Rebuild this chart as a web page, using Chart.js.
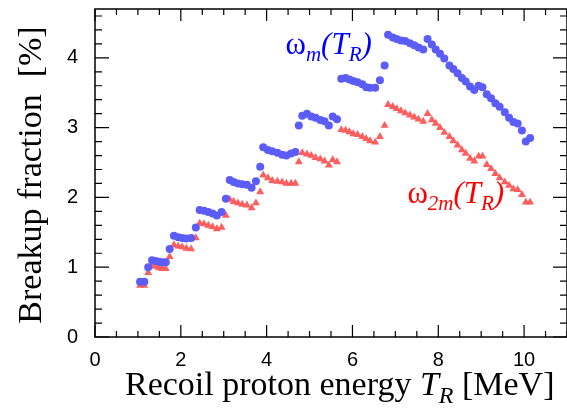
<!DOCTYPE html>
<html>
<head>
<meta charset="utf-8">
<script src="https://cdn.jsdelivr.net/npm/chart.js@4/dist/chart.umd.min.js"></script>
<style>
  body { margin: 0; background: #fff; }
  #wrap { width: 567px; height: 408px; position: relative; }
</style>
</head>
<body>
<div id="wrap"><canvas id="c"></canvas></div>
<script>
// recoil proton energy T_R [MeV], shared by both series
const energies = [
  1.05, 1.15, 1.24, 1.33, 1.41, 1.49, 1.57, 1.65, 1.74, 1.84,
  1.94, 2.03, 2.13, 2.24, 2.35, 2.44, 2.54, 2.64, 2.74, 2.84,
  2.95, 3.05, 3.14, 3.23, 3.33, 3.43, 3.54, 3.65, 3.75, 3.85,
  3.92, 4.03, 4.13, 4.25, 4.36, 4.46, 4.57, 4.67, 4.75, 4.83,
  4.94, 5.04, 5.14, 5.25, 5.35, 5.45, 5.54, 5.64, 5.74, 5.84,
  5.93, 6.02, 6.12, 6.23, 6.32, 6.41, 6.53, 6.64, 6.75, 6.83,
  6.94, 7.03, 7.13, 7.23, 7.34, 7.44, 7.54, 7.65, 7.75, 7.85,
  7.94, 8.04, 8.14, 8.26, 8.35, 8.45, 8.55, 8.64, 8.74, 8.84,
  8.94, 9.03, 9.13, 9.23, 9.33, 9.43, 9.55, 9.65, 9.75, 9.85,
  9.95, 10.04, 10.14
];
// omega_m(T_R) [%]
const omegaM = [
  0.79, 0.79, 1.00, 1.10, 1.09, 1.08, 1.07, 1.07, 1.26, 1.45,
  1.43, 1.42, 1.41, 1.42, 1.57, 1.82, 1.81, 1.79, 1.77, 1.74,
  1.79, 1.98, 2.25, 2.22, 2.20, 2.19, 2.18, 2.14, 2.23, 2.44,
  2.72, 2.68, 2.66, 2.64, 2.61, 2.60, 2.63, 2.65, 3.03, 3.17,
  3.20, 3.16, 3.14, 3.11, 3.09, 3.03, 3.16, 3.12, 3.70, 3.71,
  3.69, 3.67, 3.65, 3.62, 3.58, 3.57, 3.57, 3.68, 3.89, 4.33,
  4.29, 4.27, 4.25, 4.24, 4.21, 4.18, 4.15, 4.12, 4.27, 4.19,
  4.12, 4.06, 3.99, 3.89, 3.84, 3.78, 3.71, 3.66, 3.59, 3.54,
  3.60, 3.58, 3.48, 3.42, 3.35, 3.30, 3.22, 3.14, 3.08, 3.06,
  2.96, 2.80, 2.85
];
// omega_2m(T_R) [%]
const omega2M = [
  0.74, 0.74, 0.92, 1.02, 1.01, 0.99, 0.98, 0.98, 1.15, 1.32,
  1.30, 1.29, 1.27, 1.26, 1.42, 1.63, 1.62, 1.60, 1.58, 1.55,
  1.57, 1.74, 1.97, 1.94, 1.92, 1.90, 1.89, 1.85, 1.92, 2.08,
  2.32, 2.28, 2.24, 2.23, 2.22, 2.20, 2.20, 2.20, 2.51, 2.64,
  2.62, 2.60, 2.57, 2.55, 2.52, 2.46, 2.54, 2.51, 2.97, 2.96,
  2.94, 2.91, 2.90, 2.87, 2.84, 2.81, 2.79, 2.87, 3.03, 3.33,
  3.30, 3.27, 3.24, 3.21, 3.18, 3.15, 3.12, 3.09, 3.20, 3.11,
  3.06, 3.00, 2.93, 2.87, 2.81, 2.75, 2.68, 2.63, 2.56, 2.52,
  2.59, 2.59, 2.47, 2.41, 2.34, 2.28, 2.22, 2.17, 2.12, 2.11,
  2.04, 1.93, 1.93
];
const xTicks = [0, 2, 4, 6, 8, 10];
const yTicks = [0, 1, 2, 3, 4];

const toPoints = (xs, ys) => xs.map((x, i) => ({ x: x, y: ys[i] }));

const serif = '"Liberation Serif", "Times New Roman", serif';
const sans = '"Liberation Sans", Arial, sans-serif';

// draw a run of text pieces, each with its own font and baseline shift
function drawRich(ctx, x, y, parts, color) {
  ctx.save();
  ctx.fillStyle = color;
  ctx.textBaseline = 'alphabetic';
  ctx.textAlign = 'left';
  let cx = x;
  parts.forEach(p => {
    ctx.font = p.font;
    ctx.fillText(p.text, cx, y + (p.dy || 0));
    cx += ctx.measureText(p.text).width;
  });
  ctx.restore();
}

function omegaLabel(sub) {
  return [
    { text: 'ω', font: '31px ' + serif },
    { text: sub, font: 'italic 21px ' + serif, dy: 7 },
    { text: '(', font: 'italic 31px ' + serif },
    { text: 'T', font: 'italic 31px ' + serif },
    { text: 'R', font: 'italic 21px ' + serif, dy: 7 },
    { text: ')', font: 'italic 31px ' + serif }
  ];
}

const framePlugin = {
  id: 'frame',
  afterDraw(chart) {
    const { ctx, chartArea: a, scales: { x, y } } = chart;
    ctx.save();
    ctx.strokeStyle = '#000';
    ctx.lineWidth = 1.5;
    ctx.strokeRect(a.left, a.top, a.right - a.left, a.bottom - a.top);

    // inside ticks on all four sides
    ctx.lineWidth = 1.2;
    ctx.beginPath();
    for (let v = 0; v <= x.max + 1e-9; v += 0.5) {
      const px = x.getPixelForValue(v);
      const major = Math.abs(v / 2 - Math.round(v / 2)) < 1e-6;
      const len = major ? 12 : 6;
      ctx.moveTo(px, a.bottom); ctx.lineTo(px, a.bottom - len);
      ctx.moveTo(px, a.top); ctx.lineTo(px, a.top + len);
    }
    for (let v = 0; v <= y.max + 1e-9; v += 0.2) {
      const py = y.getPixelForValue(v);
      const major = Math.abs(v - Math.round(v)) < 1e-6;
      const len = major ? 14 : 7;
      ctx.moveTo(a.left, py); ctx.lineTo(a.left + len, py);
      ctx.moveTo(a.right, py); ctx.lineTo(a.right - len, py);
    }
    ctx.stroke();
    ctx.restore();

    // series labels, placed in data coordinates
    drawRich(ctx, x.getPixelForValue(4.44), y.getPixelForValue(4.05), omegaLabel('m'), '#0000ff');
    drawRich(ctx, x.getPixelForValue(7.28), y.getPixelForValue(1.92), omegaLabel('2m'), '#ff0000');

    // x axis title with italic T_R
    drawRich(ctx, 125, 395, [
      { text: 'Recoil proton energy ', font: '34px ' + serif },
      { text: 'T', font: 'italic 34px ' + serif },
      { text: 'R', font: 'italic 24px ' + serif, dy: 8 },
      { text: ' [MeV]', font: '34px ' + serif }
    ], '#000');

    // y axis title
    ctx.save();
    ctx.translate(32, 175);
    ctx.rotate(-Math.PI / 2);
    ctx.font = '34px ' + serif;
    ctx.fillStyle = '#000';
    ctx.textAlign = 'center';
    ctx.textBaseline = 'middle';
    ctx.fillText('Breakup fraction  [%]', 0, 0);
    ctx.restore();
  }
};

new Chart(document.getElementById('c'), {
  type: 'scatter',
  data: {
    datasets: [{
      label: 'omega_m',
      data: toPoints(energies, omegaM),
      pointStyle: 'circle',
      pointRadius: 4,
      backgroundColor: '#5c5cf8',
      borderWidth: 0
    }, {
      label: 'omega_2m',
      data: toPoints(energies, omega2M),
      pointStyle: 'triangle',
      pointRadius: 4.6,
      backgroundColor: '#ff5e5e',
      borderWidth: 0
    }]
  },
  options: {
    responsive: true,
    maintainAspectRatio: false,
    animation: false,
    layout: { autoPadding: false, padding: { top: 9, right: 0, left: 0, bottom: 0 } },
    plugins: { legend: { display: false }, tooltip: { enabled: false } },
    scales: {
      x: {
        type: 'linear',
        min: 0,
        max: 11,
        afterFit: s => { s.height = 71; s.paddingLeft = 0; s.paddingRight = 0; },
        afterBuildTicks: s => { s.ticks = xTicks.map(v => ({ value: v })); },
        grid: { display: false },
        border: { display: false },
        ticks: { color: '#000', font: { family: sans, size: 20 }, padding: 3, maxRotation: 0 }
      },
      y: {
        type: 'linear',
        min: 0,
        max: 4.7,
        afterFit: s => { s.width = 95; s.paddingTop = 0; s.paddingBottom = 0; },
        afterBuildTicks: s => { s.ticks = yTicks.map(v => ({ value: v })); },
        grid: { display: false },
        border: { display: false },
        ticks: { color: '#000', font: { family: sans, size: 20 }, padding: 9 }
      }
    }
  },
  plugins: [framePlugin]
});
</script>
</body>
</html>
